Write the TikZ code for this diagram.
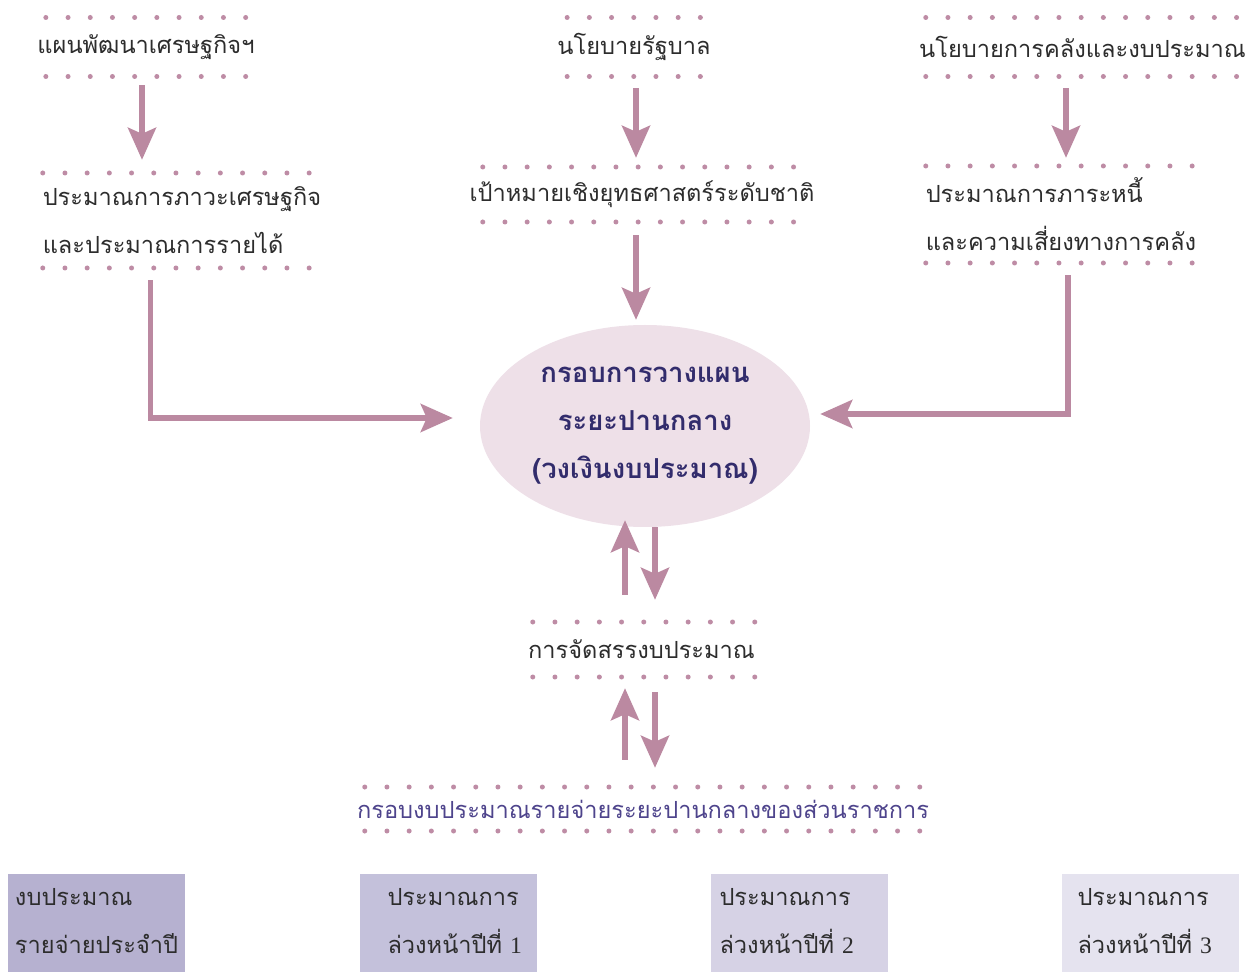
\documentclass[tikz,border=0pt]{standalone}
\usepackage{fontspec}
\setmainfont[Script=Thai]{Loma}
\newfontfamily\numfont{Liberation Serif}
\usetikzlibrary{arrows.meta,shapes.geometric}

\definecolor{ink}{RGB}{45,45,45}
\definecolor{mauve}{RGB}{187,137,161}
\definecolor{dotc}{RGB}{190,140,165}
\definecolor{ovalfill}{RGB}{238,224,232}
\definecolor{navy}{RGB}{50,44,108}
\definecolor{plum}{RGB}{78,68,140}
\definecolor{boxa}{RGB}{182,177,208}
\definecolor{boxb}{RGB}{196,193,219}
\definecolor{boxc}{RGB}{214,210,229}
\definecolor{boxd}{RGB}{229,227,239}

\begin{document}
\begin{tikzpicture}[x=1pt,y=-1pt,
  txt/.style={inner sep=0pt, text=ink, font=\fontsize{23.6}{48}\selectfont},
  framed/.style={txt, minimum height=#1},
  dotline/.style={draw=dotc, line width=5pt, line cap=round, dash pattern=on 0pt off 22.2pt},
  arr/.style={draw=mauve, line width=5.5pt, -{Stealth[length=32pt, width=28pt, inset=6pt]}},
  yearbox/.style={inner sep=0pt, minimum width=177pt, minimum height=98pt},
  boxtxt/.style={txt, align=left, anchor=west}]

% page
\fill[white] (0,0) rectangle (1254,973);
\useasboundingbox (0,0) rectangle (1254,973);

% top row
\node[framed=59pt] (A) at (146,47) {แผนพัฒนาเศรษฐกิจฯ};
\node[framed=59pt] (B) at (634,47) {นโยบายรัฐบาล};
\node[framed=59pt] (C) at (1082.5,47) {นโยบายการคลังและงบประมาณ};

% second row
\node[framed=95pt, text width=266.9pt, align=left] (D) at (176.2,220.5)
  {ประมาณการภาวะเศรษฐกิจ\\และประมาณการรายได้};
\node[framed=55pt] (E) at (642,194.5) {เป้าหมายเชิงยุทธศาสตร์ระดับชาติ};
\node[framed=97pt, text width=266.9pt, align=left] (F) at (1059.2,214.5)
  {ประมาณการภาระหนี้\\และความเสี่ยงทางการคลัง};

% central frame
\node[ellipse, fill=ovalfill, minimum width=330pt, minimum height=202pt, inner sep=0pt,
      align=center, text=navy, font=\fontsize{27.5}{48}\selectfont\bfseries] (M) at (645,426)
  {กรอบการวางแผน\\ระยะปานกลาง\\(วงเงินงบประมาณ)};

% allocation and ministry frames
\node[framed=55pt] (G) at (641.5,649.5) {การจัดสรรงบประมาณ};
\node[framed=44pt, text=plum] (H) at (643,809)
  {กรอบงบประมาณรายจ่ายระยะปานกลางของส่วนราชการ};

% dotted rules above and below each text frame (half width, half height, centre offset)
\foreach \n/\w/\h/\dx in {A/100.15/29.5/0, B/66.85/29.5/0, C/155.65/29.5/-1.1,
                         D/133.45/47.5/0, E/155.65/27.5/-3.6, F/133.45/48.5/0,
                         G/111.25/27.5/2.5, H/277.75/22/-0.5}{
  \draw[dotline] ([shift={(\dx-\w,-\h)}]\n.center) -- ([shift={(\dx+\w,-\h)}]\n.center);
  \draw[dotline] ([shift={(\dx-\w,\h)}]\n.center) -- ([shift={(\dx+\w,\h)}]\n.center);
}

% yearly budget boxes
\node[yearbox, fill=boxa] (Y0) at (96.5,923) {};
\node[yearbox, fill=boxb] (Y1) at (448,923) {};
\node[yearbox, fill=boxc] (Y2) at (799,923) {};
\node[yearbox, fill=boxd] (Y3) at (1150,923) {};
\node[boxtxt] (T0) at ([shift={(7,-2)}]Y0.west) {งบประมาณ\\รายจ่ายประจำปี};
\node[boxtxt] (T1) at ([shift={(28,-2)}]Y1.west) {ประมาณการ\\ล่วงหน้าปีที่ {\numfont 1}};
\node[boxtxt] (T2) at ([shift={(9,-2)}]Y2.west) {ประมาณการ\\ล่วงหน้าปีที่ {\numfont 2}};
\node[boxtxt] (T3) at ([shift={(16,-2)}]Y3.west) {ประมาณการ\\ล่วงหน้าปีที่ {\numfont 3}};

% connectors
\draw[arr] ([shift={(-4,8.5)}]A.south) -- ([shift={(-4,-13)}]A.south |- D.north);
\draw[arr] ([shift={(2,11.5)}]B.south) -- ([shift={(2,-9)}]B.south |- E.north);
\draw[arr] ([shift={(-16.5,11.5)}]C.south) -- ([shift={(-16.5,-8)}]C.south |- F.north);
\draw[arr] ([shift={(108,12)}]D.south west) |- ([shift={(-27,-8)}]M.west);
\draw[arr] ([shift={(-6,13)}]E.south) -- ([shift={(-6,-5)}]E.south |- M.north);
\draw[arr] ([shift={(8.8,12)}]F.south) |- ([shift={(10,-12)}]M.east);
\draw[arr] ([shift={(-16.5,-27)}]G.north) -- ([shift={(-16.5,-7)}]G.north |- M.south);
\draw[arr] ([shift={(13.5,0)}]G.north |- M.south) -- ([shift={(13.5,-22)}]G.north);
\draw[arr] ([shift={(-18,-27)}]H.north) -- ([shift={(-16.5,11)}]G.south);
\draw[arr] ([shift={(13.5,15)}]G.south) -- ([shift={(12,-19)}]H.north);
\end{tikzpicture}
\end{document}
